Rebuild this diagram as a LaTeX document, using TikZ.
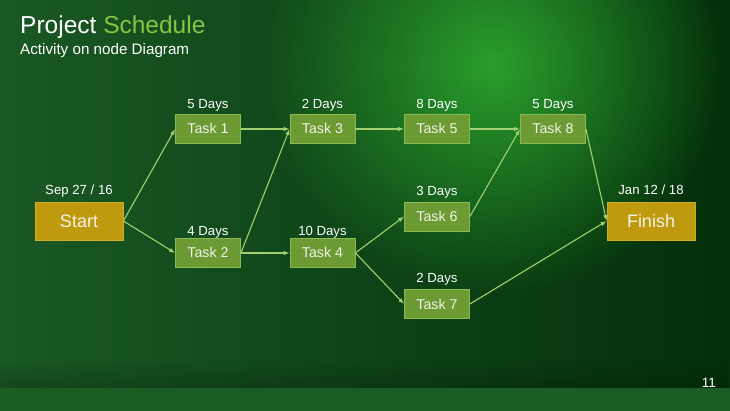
\documentclass[tikz,border=0pt]{standalone}
\usepackage{fontspec}
\setmainfont{Liberation Sans}
\usetikzlibrary{arrows.meta,fadings}
\definecolor{bgleft}{HTML}{1A5824}
\definecolor{bgmid}{HTML}{114C1B}
\definecolor{bgright}{HTML}{03300A}
\definecolor{glowcol}{HTML}{2A9E2C}
\definecolor{stripmid}{HTML}{236E2C}
\definecolor{stripside}{HTML}{195C24}
\definecolor{taskfill}{HTML}{6B9B32}
\definecolor{taskdraw}{HTML}{8CBA52}
\definecolor{goldfill}{HTML}{BF9A0E}
\definecolor{golddraw}{HTML}{D2AE22}
\definecolor{linkcol}{HTML}{A2D070}
\definecolor{titlegreen}{HTML}{88C442}
\definecolor{txt}{HTML}{F2F2E8}
\tikzfading[name=glowfade, inner color=transparent!0, outer color=transparent!100]
\tikzset{
  taskbox/.style={draw=taskdraw, fill=taskfill, line width=0.8pt, minimum width=65pt, minimum height=29pt, inner sep=0pt, text=txt, font=\fontsize{14.2}{16}\selectfont, text height=10pt, text depth=0pt},
  endbox/.style={draw=golddraw, fill=goldfill, line width=0.8pt, minimum width=88pt, minimum height=38pt, inner sep=0pt, text=txt, font=\fontsize{18}{20}\selectfont, text height=13pt, text depth=0pt},
  lbl/.style={anchor=base, inner sep=0pt, text=white, font=\fontsize{13.2}{15}\selectfont},
  link/.style={draw=linkcol, line width=1.1pt, -{Latex[length=6pt,width=4.5pt]}}
}
\begin{document}
\begin{tikzpicture}[x=1pt,y=-1pt]
\useasboundingbox (0,0) rectangle (730,411);
% background
\fill[left color=bgleft, middle color=bgmid, right color=bgright] (0,0) rectangle (730,388);
\fill[glowcol, path fading=glowfade] (493,65) circle (230);
\fill[black, opacity=0.18, path fading=north] (0,360) rectangle (730,388);
\fill[left color=stripside, middle color=stripmid, right color=stripside] (0,388) rectangle (730,411);
% title
\node[anchor=base west, inner sep=0pt, font=\fontsize{24.5}{28}\selectfont] (title) at (20,34) {\textcolor{white}{Project} \textcolor{titlegreen}{Schedule}};
\node[anchor=base west, inner sep=0pt, text=white, font=\fontsize{15.2}{18}\selectfont] (subtitle) at (20,55) {Activity on node Diagram};
\node[anchor=base east, inner sep=0pt, text=white, font=\fontsize{13.5}{16}\selectfont] (page) at (716,387) {11};
% nodes
\node[endbox] (start) at (79,221) {Start};
\node[endbox] (finish) at (651,221) {Finish};
\node[taskbox] (t1) at (208,129) {Task 1};
\node[taskbox] (t2) at (208,253) {Task 2};
\node[taskbox] (t3) at (322.5,129) {Task 3};
\node[taskbox] (t4) at (322.5,253) {Task 4};
\node[taskbox] (t5) at (437,129) {Task 5};
\node[taskbox] (t6) at (437,216.5) {Task 6};
\node[taskbox] (t7) at (437,304) {Task 7};
\node[taskbox] (t8) at (553,129) {Task 8};
% labels
\node[lbl] (lstart) at (79,195) {Sep 27 / 16};
\node[lbl] (lfinish) at (651,195) {Jan 12 / 18};
\node[lbl] (l1) at (208,108.5) {5 Days};
\node[lbl] (l2) at (208,235.5) {4 Days};
\node[lbl] (l3) at (322.5,108.5) {2 Days};
\node[lbl] (l4) at (322.5,235.5) {10 Days};
\node[lbl] (l5) at (437,108.5) {8 Days};
\node[lbl] (l6) at (437,196) {3 Days};
\node[lbl] (l7) at (437,283) {2 Days};
\node[lbl] (l8) at (553,108.5) {5 Days};
% links
\draw[link] (start.east) -- (t1.west);
\draw[link] (start.east) -- (t2.west);
\draw[link] (t1.east) -- (t3.west);
\draw[link] (t2.east) -- (t3.west);
\draw[link] (t2.east) -- (t4.west);
\draw[link] (t3.east) -- (t5.west);
\draw[link] (t4.east) -- (t6.west);
\draw[link] (t4.east) -- (t7.west);
\draw[link] (t5.east) -- (t8.west);
\draw[link] (t6.east) -- (t8.west);
\draw[link] (t8.east) -- (finish.west);
\draw[link] (t7.east) -- (finish.west);
\end{tikzpicture}
\end{document}
